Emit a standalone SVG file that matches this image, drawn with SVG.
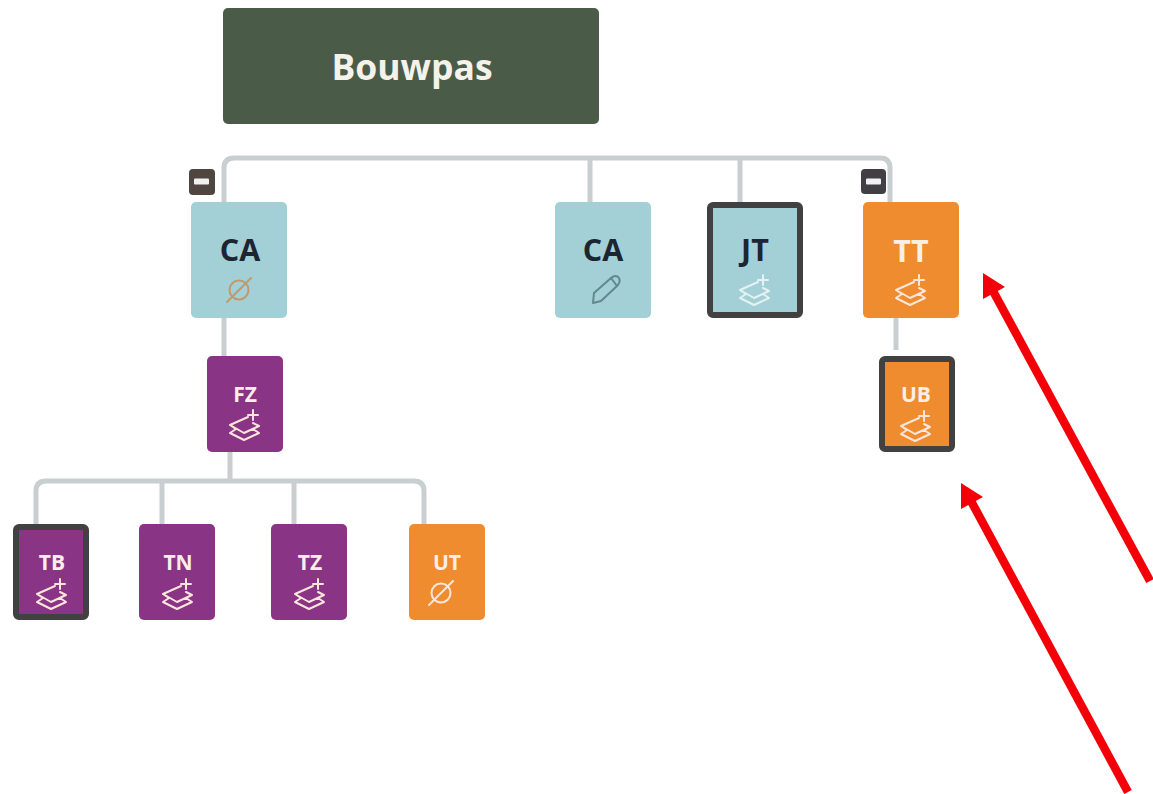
<svg xmlns="http://www.w3.org/2000/svg" width="1153" height="794" viewBox="0 0 1153 794">
<style>
.line{fill:none;stroke:#c9ced1;stroke-width:5}
.blue{fill:#a3cfd6}.orange{fill:#ef8c30}.purple{fill:#893484}
.sel{stroke:#414141;stroke-width:6;stroke-linejoin:round}
text{font-family:"Open Sans","Noto Sans","Liberation Sans",sans-serif;font-weight:700;text-anchor:middle}
.big{font-size:30.500px}.small{font-size:21px}
.dark{fill:#1c2530}.light{fill:#fbeee6}
.ic{fill:none;stroke-width:2;stroke-linejoin:round;stroke-linecap:round}
.icl{stroke:#fbe6dc}.icb{stroke:#e4f2f3}
.arrow{stroke:#f40009;stroke-width:8.500;fill:none}
</style>
<defs>
<g id="layers">
<path d="M3-8L-15 0L-1 8L14 1L8-2M-15 0L-9 4L-15 8L-1 15L14 8L8 4"/>
<path d="M8-15V-5M3-10H13"/>
</g>
<g id="none">
<circle cx="0" cy="0" r="9.500"/>
<path d="M-12 12L12-12"/>
</g>
</defs>
<g id="connectors">
<path class="line" d="M224 202V168Q224 158 234 158H880Q890 158 890 168V202"/>
<path class="line" d="M590 158V202M740 158V202M224 318V356M896 318V350"/>
<path class="line" d="M230 452V481M36 524V491Q36 481 46 481H414Q424 481 424 491V524M162 481V524M294 481V524"/>
</g>
<g id="root"><rect x="223" y="8" width="376" height="116" rx="5" fill="#4a5c48"/><text x="412" y="79.500" font-size="35.500" fill="#f4f2ea">Bouwpas</text></g>
<g id="toggle-ca"><rect x="189" y="169" width="26" height="26" rx="4" fill="#4f4640"/><rect x="194" y="178.500" width="15" height="6" rx="1" fill="#f1f1f1"/></g>
<g id="toggle-tt"><rect x="861" y="169" width="25" height="25" rx="4" fill="#423f44"/><rect x="866" y="178.500" width="15" height="6" rx="1" fill="#f1f1f1"/></g>
<g id="node-ca1"><rect class="blue" x="191" y="202" width="96" height="116" rx="5"/><text class="big dark" x="240" y="261">CA</text><use href="#none" x="239" y="290" class="ic" stroke="#c19a68"/></g>
<g id="node-ca2"><rect class="blue" x="555" y="202" width="96" height="116" rx="5"/><text class="big dark" x="603" y="261">CA</text>
<g class="ic" stroke="#62888d"><path d="M593 303L594 293L611 278Q616 274 619 278Q621 282 617 286L601 301Z"/><path d="M611 278L617 286"/></g></g>
<g id="node-jt"><rect class="blue sel" x="710" y="205" width="90" height="110" rx="3"/><text class="big dark" x="755" y="261">JT</text><use href="#layers" x="755" y="290" class="ic icb"/></g>
<g id="node-tt"><rect class="orange" x="863" y="202" width="96" height="116" rx="5"/><text class="big light" x="911" y="262">TT</text><use href="#layers" x="911" y="290" class="ic icl"/></g>
<g id="node-fz"><rect class="purple" x="207" y="356" width="76" height="96" rx="5"/><text class="small light" x="245" y="402">FZ</text><use href="#layers" x="245" y="425" class="ic icl"/></g>
<g id="node-ub"><rect class="orange sel" x="882" y="359" width="70" height="90" rx="3"/><text class="small light" x="916" y="402">UB</text><use href="#layers" x="916" y="426" class="ic icl"/></g>
<g id="node-tb"><rect class="purple sel" x="16" y="527" width="70" height="90" rx="3"/><text class="small light" x="52" y="570">TB</text><use href="#layers" x="52" y="594" class="ic icl"/></g>
<g id="node-tn"><rect class="purple" x="139" y="524" width="76" height="96" rx="5"/><text class="small light" x="178" y="570">TN</text><use href="#layers" x="178" y="594" class="ic icl"/></g>
<g id="node-tz"><rect class="purple" x="271" y="524" width="76" height="96" rx="5"/><text class="small light" x="310" y="570">TZ</text><use href="#layers" x="310" y="594" class="ic icl"/></g>
<g id="node-ut"><rect class="orange" x="409" y="524" width="76" height="96" rx="5"/><text class="small light" x="447" y="570">UT</text><use href="#none" x="441" y="593" class="ic icl"/></g>
<g id="arrows">
<path class="arrow" d="M1150 581L993 291"/><path d="M983 273L1005 287L983 299Z" fill="#f40009"/>
<path class="arrow" d="M1128 792L971 501"/><path d="M961 483L983 497L961 509Z" fill="#f40009"/>
</g>
</svg>
